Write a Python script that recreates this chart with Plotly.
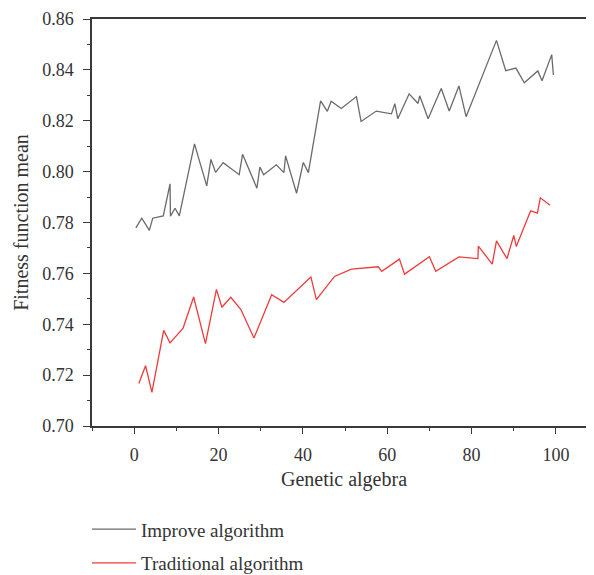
import plotly.graph_objects as go

improve_x = [0.4, 1.8, 3.6, 4.4, 6.9, 8.5, 8.6, 9.7, 10.7, 14.3, 17.2, 18.2, 19.3, 21.1, 24.9, 25.7,
             29.1, 29.8, 30.7, 33.7, 35.5, 35.9, 38.5, 40.1, 41.3, 44.2, 45.8, 46.7, 49.1, 52.7,
             53.8, 57.4, 61.0, 61.8, 62.5, 65.2, 67.3, 67.7, 69.7, 72.8, 74.7, 77.0, 78.7, 85.9,
             88.1, 90.5, 92.5, 95.7, 96.7, 99.0, 99.4]
improve_y = [0.7779, 0.7817, 0.7769, 0.7817, 0.7826, 0.7952, 0.7825, 0.7856, 0.7826, 0.8109, 0.7944,
             0.8048, 0.7997, 0.8035, 0.7988, 0.8068, 0.7935, 0.8018, 0.7988, 0.8027, 0.7996, 0.8062,
             0.7915, 0.8036, 0.7996, 0.8278, 0.8237, 0.8277, 0.8248, 0.8295, 0.8197, 0.8238, 0.8227,
             0.8267, 0.8208, 0.8306, 0.8268, 0.8298, 0.8208, 0.8327, 0.8238, 0.8337, 0.8216, 0.8516,
             0.8397, 0.8407, 0.8349, 0.8396, 0.8357, 0.8460, 0.8380]

trad_x = [1.1, 2.7, 4.2, 7.0, 8.5, 11.6, 14.1, 16.9, 19.5, 20.8, 22.9, 25.3, 28.4, 32.6, 35.5, 41.9,
          43.2, 47.5, 51.5, 57.9, 58.7, 62.9, 64.1, 70.0, 71.5, 77.0, 81.5, 81.6, 84.9, 85.9, 88.4,
          90.0, 90.6, 94.0, 95.6, 96.3, 98.6]
trad_y = [0.7167, 0.7237, 0.7132, 0.7376, 0.7327, 0.7385, 0.7507, 0.7324, 0.7537, 0.7467, 0.7506,
          0.7458, 0.7346, 0.7516, 0.7486, 0.7586, 0.7497, 0.7588, 0.7617, 0.7626, 0.7608, 0.7656,
          0.7597, 0.7665, 0.7608, 0.7665, 0.7658, 0.7707, 0.7636, 0.7728, 0.7658, 0.7749, 0.7706,
          0.7846, 0.7837, 0.7897, 0.7868]

y_ticks = [0.70, 0.72, 0.74, 0.76, 0.78, 0.80, 0.82, 0.84, 0.86]
y_tick_labels = ["0.70", "0.72", "0.74", "0.76", "0.78", "0.80", "0.82", "0.84", "0.86"]
x_ticks = [0, 20, 40, 60, 80, 100]

FONT = "Liberation Serif"

fig = go.Figure()
fig.add_trace(go.Scatter(x=improve_x, y=improve_y, mode="lines", name="Improve algorithm",
                         legendgroup="a", line=dict(color="#6a6a6a", width=1.3)))
fig.add_trace(go.Scatter(x=trad_x, y=trad_y, mode="lines", name="Traditional algorithm",
                         legendgroup="b", line=dict(color="#ee3b3b", width=1.3)))

axis_common = dict(showline=True, linecolor="#3a3a3a", linewidth=1.5, mirror=True,
                   ticks="outside", tickcolor="#3a3a3a", tickwidth=1.2,
                   showgrid=False, zeroline=False, ticklabelstandoff=6,
                   tickfont=dict(family=FONT, size=18, color="#333333"))

fig.update_layout(
    width=594, height=575,
    margin=dict(l=84, r=6, t=11, b=157, autoexpand=False),
    paper_bgcolor="white", plot_bgcolor="white",
    font=dict(family=FONT, color="#333333"),
    xaxis=dict(range=[-10, 109.5], tickvals=x_ticks, ticklen=6,
               minor=dict(dtick=10, tick0=0, ticks="outside", ticklen=3, tickcolor="#3a3a3a"),
               title=dict(text="Genetic algebra", font=dict(family=FONT, size=20), standoff=8),
               **axis_common),
    yaxis=dict(range=[0.70, 0.86], tickvals=y_ticks, ticktext=y_tick_labels, ticklen=7,
               minor=dict(dtick=0.01, tick0=0.70, ticks="outside", ticklen=3, tickcolor="#3a3a3a"),
               title=dict(text="Fitness function mean", font=dict(family=FONT, size=20), standoff=8),
               **axis_common),
    legend=dict(x=-0.01, xanchor="left", y=-0.207, yanchor="top", orientation="v",
                font=dict(family=FONT, size=19, color="#333333"),
                bgcolor="rgba(0,0,0,0)", tracegroupgap=6, itemwidth=44),
    showlegend=True,
)

fig.write_html("out.html")
